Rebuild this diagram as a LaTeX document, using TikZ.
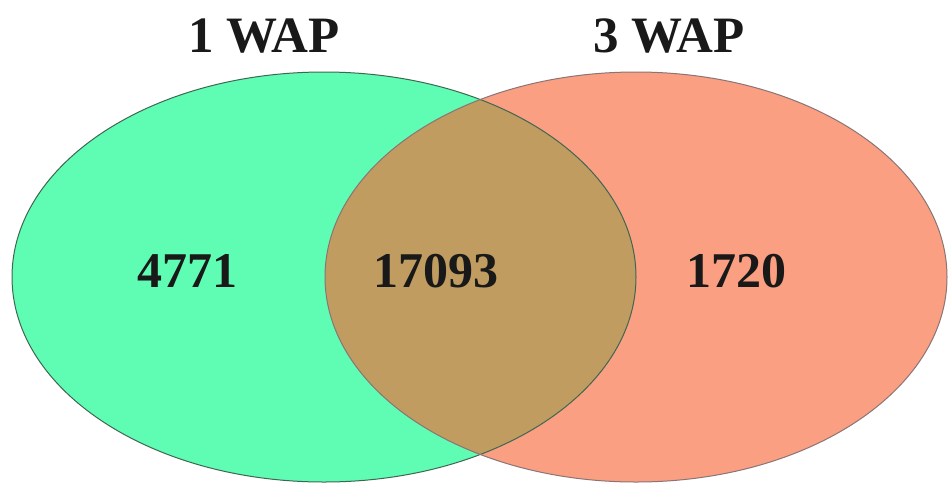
\documentclass[tikz,border=0pt]{standalone}
\usepackage{fontspec}
\setmainfont{Liberation Serif}
\definecolor{vgreen}{HTML}{5FFDB3}
\definecolor{vsalmon}{HTML}{FB9F82}
\definecolor{vboth}{HTML}{C09C60}
\definecolor{lline}{HTML}{3F6652}
\definecolor{rline}{HTML}{8A7474}
\tikzset{
  lbl/.style={anchor=base, inner sep=0pt, font=\fontsize{50}{60}\selectfont\bfseries, text=black!90},
  ttl/.style={anchor=base, inner sep=0pt, font=\fontsize{51}{60}\selectfont\bfseries, text=black!90}
}
\begin{document}
\begin{tikzpicture}[x=1pt,y=-1pt]
\useasboundingbox (0,0) rectangle (948,483);
\fill[white] (0,0) rectangle (948,483);
% fills
\fill[vgreen] (324,277) ellipse [x radius=312, y radius=205];
\fill[vsalmon] (636,277) ellipse [x radius=311, y radius=205];
\begin{scope}
  \clip (324,277) ellipse [x radius=312, y radius=205];
  \fill[vboth] (636,277) ellipse [x radius=311, y radius=205];
\end{scope}
% outlines
\draw[lline, line width=1pt] (324,277) ellipse [x radius=312, y radius=205];
\draw[rline, line width=1pt] (636,277) ellipse [x radius=311, y radius=205];
% titles
\node[ttl] (t1) at (264,52) {1 WAP};
\node[ttl] (t3) at (669,52) {3 WAP};
% numbers
\node[lbl] (a) at (187,287) {4771};
\node[lbl] (ab) at (436,287) {17093};
\node[lbl] (b) at (736,287) {1720};
\end{tikzpicture}
\end{document}
